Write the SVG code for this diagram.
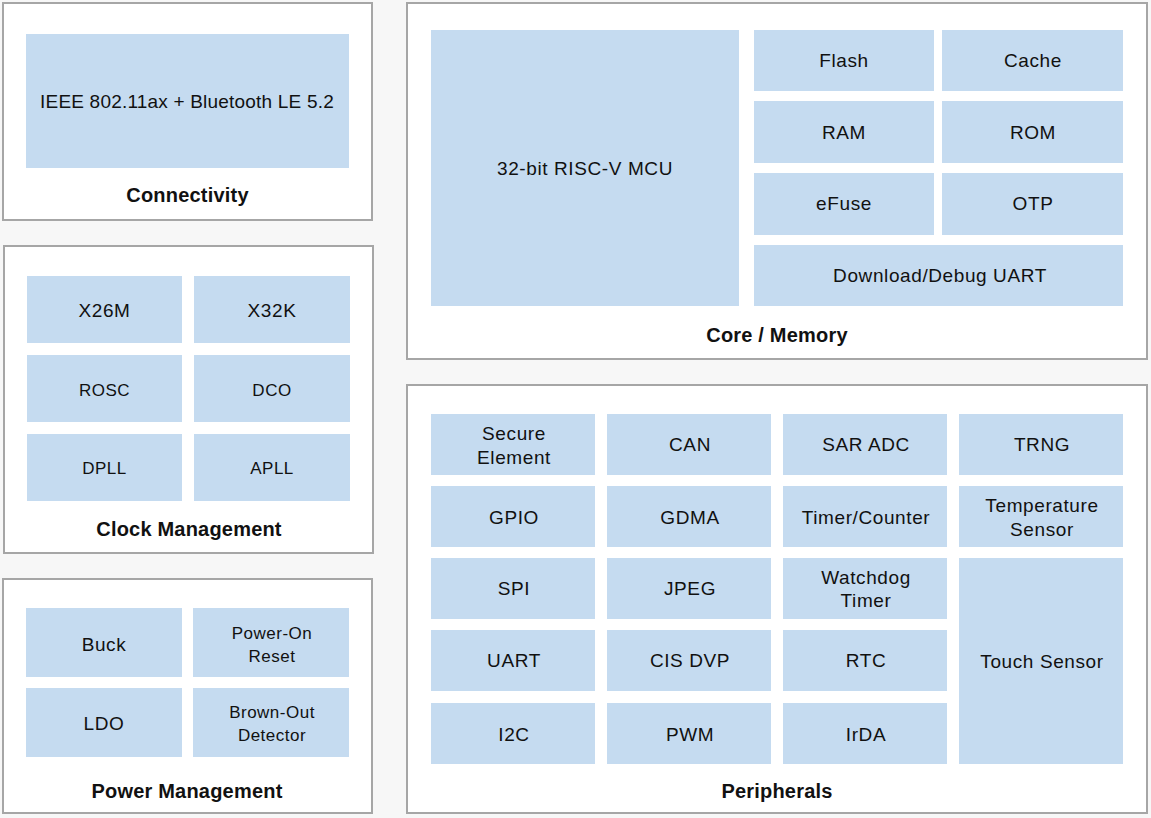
<svg xmlns="http://www.w3.org/2000/svg" width="1151" height="818" viewBox="0 0 1151 818">
<style>
.panel{fill:#ffffff;stroke:#a6a6a6;stroke-width:2}
.cell{fill:#c5dbf0}
text{font-family:"Liberation Sans",Arial,sans-serif;fill:#111;text-anchor:middle;dominant-baseline:central}
.t{font-size:19px;letter-spacing:0.6px}
.s{font-size:17px;letter-spacing:0.5px}
.h{font-size:20px;font-weight:bold;letter-spacing:0.2px}
</style>
<rect width="1151" height="818" fill="#f7f7f7"/>
<g id="connectivity">
<rect class="panel" x="3" y="3" width="369" height="217"/>
<rect class="cell" x="26" y="34" width="323" height="134"/>
<text class="t" x="187" y="101" style="letter-spacing:0.2px">IEEE 802.11ax + Bluetooth LE 5.2</text>
<text class="h" x="187.5" y="195">Connectivity</text>
</g>
<g id="clock">
<rect class="panel" x="4" y="246" width="369" height="307"/>
<rect class="cell" x="27" y="276" width="155" height="67"/>
<text class="t" x="104.5" y="310">X26M</text>
<rect class="cell" x="194" y="276" width="156" height="67"/>
<text class="t" x="272" y="310">X32K</text>
<rect class="cell" x="27" y="355" width="155" height="67"/>
<text class="s" x="104.5" y="390">ROSC</text>
<rect class="cell" x="194" y="355" width="156" height="67"/>
<text class="s" x="272" y="390">DCO</text>
<rect class="cell" x="27" y="434" width="155" height="67"/>
<text class="s" x="104.5" y="468">DPLL</text>
<rect class="cell" x="194" y="434" width="156" height="67"/>
<text class="s" x="272" y="468">APLL</text>
<text class="h" x="189" y="529">Clock Management</text>
</g>
<g id="power">
<rect class="panel" x="3" y="579" width="369" height="234"/>
<rect class="cell" x="26" y="608" width="156" height="69"/>
<text class="t" x="104" y="644">Buck</text>
<rect class="cell" x="193" y="608" width="156" height="69"/>
<text class="s" x="272" y="633">Power-On</text>
<text class="s" x="272" y="656">Reset</text>
<rect class="cell" x="26" y="688" width="156" height="69"/>
<text class="t" x="104" y="723">LDO</text>
<rect class="cell" x="193" y="688" width="156" height="69"/>
<text class="s" x="272" y="712">Brown-Out</text>
<text class="s" x="272" y="735">Detector</text>
<text class="h" x="187" y="791">Power Management</text>
</g>
<g id="core">
<rect class="panel" x="407" y="3" width="740" height="356"/>
<rect class="cell" x="431" y="30" width="308" height="276"/>
<text class="t" x="585" y="168">32-bit RISC-V MCU</text>
<rect class="cell" x="754" y="30" width="180" height="61"/>
<text class="t" x="844" y="60">Flash</text>
<rect class="cell" x="942" y="30" width="181" height="61"/>
<text class="t" x="1033" y="60">Cache</text>
<rect class="cell" x="754" y="101" width="180" height="62"/>
<text class="t" x="844" y="132">RAM</text>
<rect class="cell" x="942" y="101" width="181" height="62"/>
<text class="t" x="1033" y="132">ROM</text>
<rect class="cell" x="754" y="173" width="180" height="62"/>
<text class="t" x="844" y="203">eFuse</text>
<rect class="cell" x="942" y="173" width="181" height="62"/>
<text class="t" x="1033" y="203">OTP</text>
<rect class="cell" x="754" y="245" width="369" height="61"/>
<text class="t" x="940" y="275">Download/Debug UART</text>
<text class="h" x="777" y="335">Core / Memory</text>
</g>
<g id="peripherals">
<rect class="panel" x="407" y="385" width="740" height="428"/>
<rect class="cell" x="431" y="414" width="164" height="61"/>
<text class="t" x="514" y="433">Secure</text>
<text class="t" x="514" y="457">Element</text>
<rect class="cell" x="607" y="414" width="164" height="61"/>
<text class="t" x="690" y="444">CAN</text>
<rect class="cell" x="783" y="414" width="164" height="61"/>
<text class="t" x="866" y="444">SAR ADC</text>
<rect class="cell" x="959" y="414" width="164" height="61"/>
<text class="t" x="1042" y="444">TRNG</text>
<rect class="cell" x="431" y="486" width="164" height="61"/>
<text class="t" x="514" y="517">GPIO</text>
<rect class="cell" x="607" y="486" width="164" height="61"/>
<text class="t" x="690" y="517">GDMA</text>
<rect class="cell" x="783" y="486" width="164" height="61"/>
<text class="t" x="866" y="517">Timer/Counter</text>
<rect class="cell" x="959" y="486" width="164" height="61"/>
<text class="t" x="1042" y="505">Temperature</text>
<text class="t" x="1042" y="529">Sensor</text>
<rect class="cell" x="431" y="558" width="164" height="61"/>
<text class="t" x="514" y="588">SPI</text>
<rect class="cell" x="607" y="558" width="164" height="61"/>
<text class="t" x="690" y="588">JPEG</text>
<rect class="cell" x="783" y="558" width="164" height="61"/>
<text class="t" x="866" y="577">Watchdog</text>
<text class="t" x="866" y="600">Timer</text>
<rect class="cell" x="959" y="558" width="164" height="206"/>
<text class="t" x="1042" y="661">Touch Sensor</text>
<rect class="cell" x="431" y="630" width="164" height="61"/>
<text class="t" x="514" y="660">UART</text>
<rect class="cell" x="607" y="630" width="164" height="61"/>
<text class="t" x="690" y="660">CIS DVP</text>
<rect class="cell" x="783" y="630" width="164" height="61"/>
<text class="t" x="866" y="660">RTC</text>
<rect class="cell" x="431" y="703" width="164" height="61"/>
<text class="t" x="514" y="734">I2C</text>
<rect class="cell" x="607" y="703" width="164" height="61"/>
<text class="t" x="690" y="734">PWM</text>
<rect class="cell" x="783" y="703" width="164" height="61"/>
<text class="t" x="866" y="734">IrDA</text>
<text class="h" x="777" y="791">Peripherals</text>
</g>
<g id="connectors"/>
</svg>
